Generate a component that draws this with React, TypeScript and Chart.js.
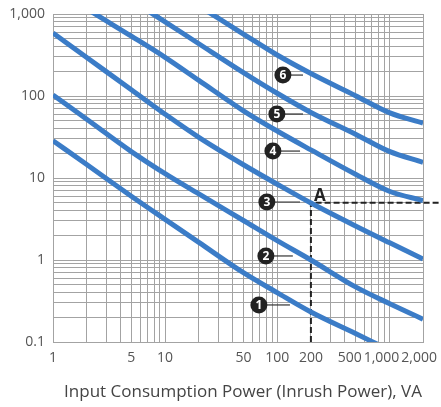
import React, { useEffect, useRef } from 'react';
import { Chart, registerables } from 'chart.js';

Chart.register(...registerables);

// Input consumption power (VA) sample positions
const powerVA = [1, 2, 5, 10, 20, 50, 100, 200, 500, 1000, 2000];

// Curves 1..6
const curve1 = [28.5, 14.6, 6.0, 3.13, 1.64, 0.7, 0.4, 0.232, 0.127, 0.08, 0.051];
const curve2 = [103, 52, 21, 11.3, 6.4, 3.03, 1.72, 1.0, 0.47, 0.295, 0.19];
const curve3 = [586, 295, 119, 60, 31.3, 14.5, 8.4, 4.95, 2.6, 1.63, 1.03];
const curve4 = [2160, 1160, 537, 296, 155, 66, 37.4, 22, 11.1, 6.9, 5.3];
const curve5 = [6300, 3400, 1480, 802, 434, 193, 108, 63, 34.2, 21.1, 15.5];
const curve6 = [16000, 8900, 4070, 2260, 1250, 570, 316, 188, 101, 62.7, 46.6];
const curveLabels = ['1', '2', '3', '4', '5', '6'];

// Tick labels
const xTickValues = [1, 5, 10, 50, 100, 200, 500, 1000, 2000];
const xTickLabels = ['1', '5', '10', '50', '100', '200', '500', '1,000', '2,000'];
const yTickValues = [0.1, 1, 10, 100, 1000];
const yTickLabels = ['0.1', '1', '10', '100', '1,000'];
const xTitle = 'Input Consumption Power (Inrush Power), VA';

// Numbered badges: badge centre (x, y) and leader end x, in data units
const badgeX = [68.7, 79.3, 80.9, 91.6, 99.4, 112.5];
const badgeY = [0.283, 1.12, 5.1, 21.3, 60.3, 180];
const leaderEndX = [130, 138, 160, 160, 170, 170];

// Point A guide
const pointA = { x: 200, y: 5 };
const guideBottomY = 0.1;
const guideRightX = 2900;

function logGrid(min: number, max: number) {
  const out: number[] = [];
  for (let e = Math.floor(Math.log10(min)); e <= Math.ceil(Math.log10(max)); e++) {
    for (let m = 1; m < 10; m++) {
      const v = +(m * Math.pow(10, e)).toPrecision(6);
      if (v >= min - 1e-9 && v <= max + 1e-9) out.push(v);
    }
  }
  return out;
}

const BLUE = '#3b7cc7';
const GRID = '#a3a3a3';
const FONT = '"Open Sans"';

export default function App() {
  const ref = useRef<HTMLCanvasElement>(null);

  useEffect(() => {
    document.body.style.margin = '0';
    const canvas = ref.current!;
    const curves = [curve1, curve2, curve3, curve4, curve5, curve6];

    const annot = {
      id: 'annot',
      afterDatasetsDraw(chart: any) {
        const { ctx, chartArea } = chart;
        const xs = chart.scales.x;
        const ys = chart.scales.y;
        ctx.save();
        // numbered badges with leader lines
        for (let i = 0; i < curveLabels.length; i++) {
          const cx = xs.getPixelForValue(badgeX[i]);
          const cy = ys.getPixelForValue(badgeY[i]);
          const ex = xs.getPixelForValue(leaderEndX[i]);
          ctx.beginPath();
          ctx.strokeStyle = '#333';
          ctx.lineWidth = 1.2;
          ctx.moveTo(cx, cy);
          ctx.lineTo(ex, cy);
          ctx.stroke();
          ctx.beginPath();
          ctx.fillStyle = '#222';
          ctx.arc(cx, cy, 8.5, 0, Math.PI * 2);
          ctx.fill();
          ctx.fillStyle = '#fff';
          ctx.font = `bold 12px ${FONT}`;
          ctx.textAlign = 'center';
          ctx.textBaseline = 'middle';
          ctx.fillText(curveLabels[i], cx, cy + 0.5);
        }
        // point A label
        const ax = xs.getPixelForValue(pointA.x);
        const ay = ys.getPixelForValue(pointA.y);
        ctx.fillStyle = '#222';
        ctx.font = `bold 17px ${FONT}`;
        ctx.textAlign = 'left';
        ctx.textBaseline = 'alphabetic';
        ctx.fillText('A', ax + 3, ay - 2);

        // x tick labels (kept inside the canvas, crowded ones nudged apart)
        ctx.font = `14px ${FONT}`;
        ctx.fillStyle = '#555';
        ctx.textAlign = 'center';
        ctx.textBaseline = 'middle';
        const items = xTickValues.map((v, i) => ({
          t: xTickLabels[i],
          w: ctx.measureText(xTickLabels[i]).width,
          c: xs.getPixelForValue(v),
        }));
        let limit = chart.width - 4;
        for (let i = items.length - 1; i >= 0; i--) {
          const it = items[i];
          if (it.c + it.w / 2 > limit) it.c = limit - it.w / 2;
          limit = it.c - it.w / 2 - 2;
        }
        const ly = chartArea.bottom + 16;
        items.forEach((it) => ctx.fillText(it.t, it.c, ly));

        // axis title
        ctx.font = `17px ${FONT}`;
        ctx.fillStyle = '#444';
        ctx.textAlign = 'center';
        ctx.textBaseline = 'middle';
        ctx.fillText(xTitle, (chartArea.left + chartArea.right) / 2 + 5, chartArea.bottom + 50);
        ctx.restore();
      },
    };

    const datasets: any[] = curves.map((arr, k) => ({
      label: curveLabels[k],
      data: powerVA.map((x, i) => ({ x, y: arr[i] })),
      borderColor: BLUE,
      borderWidth: 5,
      pointRadius: 0,
      cubicInterpolationMode: 'monotone',
      clip: 0,
      fill: false,
      order: 0,
    }));
    datasets.push({
      label: 'A',
      data: [
        { x: pointA.x, y: guideBottomY },
        { x: pointA.x, y: pointA.y },
        { x: guideRightX, y: pointA.y },
      ],
      borderColor: '#222',
      borderWidth: 2,
      borderDash: [6, 3],
      pointRadius: 0,
      tension: 0,
      clip: false,
      fill: false,
      order: 1,
    });

    const chart = new Chart(canvas, {
      type: 'line',
      data: { datasets },
      options: {
        animation: false,
        responsive: false,
        devicePixelRatio: 1,
        layout: { padding: { left: 0, right: 18, top: 14, bottom: 0 } },
        plugins: { legend: { display: false }, tooltip: { enabled: false } },
        scales: {
          x: {
            type: 'logarithmic',
            min: 1,
            max: 2000,
            bounds: 'data',
            afterBuildTicks: (s: any) => {
              s.ticks = logGrid(1, 2000).map((v) => ({ value: v }));
            },
            afterFit: (s: any) => {
              s.height = 65;
              s.paddingLeft = 0;
              s.paddingRight = 0;
            },
            grid: { color: GRID, lineWidth: 1, drawTicks: false },
            border: { color: GRID },
            ticks: { display: false, autoSkip: false, maxRotation: 0 },
          },
          y: {
            type: 'logarithmic',
            min: 0.1,
            max: 1000,
            bounds: 'data',
            afterBuildTicks: (s: any) => {
              s.ticks = logGrid(0.1, 1000).map((v) => ({ value: v }));
            },
            afterFit: (s: any) => {
              s.width = 53;
              s.paddingTop = 0;
              s.paddingBottom = 0;
            },
            grid: { color: GRID, lineWidth: 1, drawTicks: false },
            border: { color: GRID },
            ticks: {
              autoSkip: false,
              padding: 8,
              color: '#555',
              font: { family: 'Open Sans', size: 14 },
              callback: (v: any) => {
                const i = yTickValues.indexOf(Number(v));
                return i >= 0 ? yTickLabels[i] : '';
              },
            },
          },
        },
      },
      plugins: [annot],
    } as any);

    return () => chart.destroy();
  }, []);

  return (
    <div style={{ position: 'absolute', left: 0, top: 0, width: 441, height: 407 }}>
      <canvas ref={ref} width={441} height={407} />
    </div>
  );
}
